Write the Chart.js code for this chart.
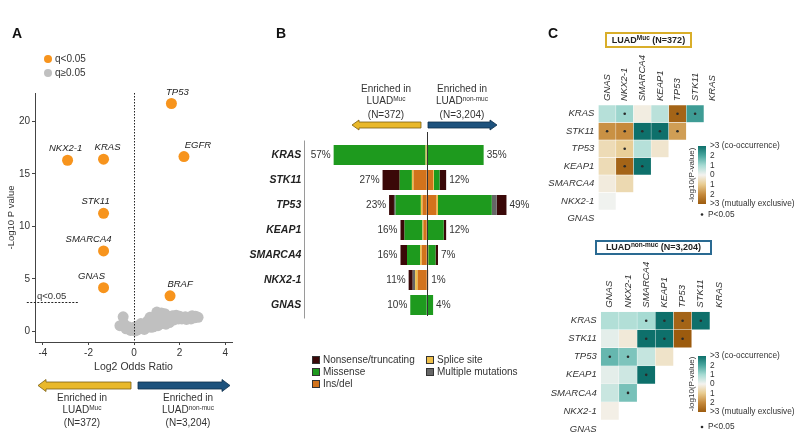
<!DOCTYPE html>
<html>
<head>
<meta charset="utf-8">
<script src="https://cdn.jsdelivr.net/npm/chart.js@4.4.1/dist/chart.umd.min.js"></script>
<style>
html,body{margin:0;padding:0;background:#fff;}
body{width:800px;height:445px;position:relative;overflow:hidden;font-family:"Liberation Sans",Arial,sans-serif;color:#333;}
canvas{position:absolute;left:0;top:0;}
.t{position:absolute;white-space:nowrap;font-size:10px;line-height:12px;}
.c{transform:translateX(-50%);text-align:center;}
.L{position:absolute;font-weight:bold;font-size:14px;line-height:14px;color:#111;}
.sup{font-size:6.5px;position:relative;top:-3.5px;}
.dot{position:absolute;width:8px;height:8px;border-radius:50%;}
.sq{position:absolute;width:6px;height:6px;border:1px solid #333;}
.box{position:absolute;box-sizing:border-box;border:2px solid;font-weight:bold;font-size:9px;text-align:center;color:#222;white-space:nowrap;}
svg{position:absolute;left:0;top:0;}
</style>
</head>
<body>
<canvas id="cA" width="800" height="445"></canvas>
<canvas id="cB" width="800" height="445"></canvas>
<canvas id="cC1" width="800" height="445"></canvas>
<canvas id="cC2" width="800" height="445"></canvas>

<svg width="800" height="445">
  <polygon points="38,385.5 46,379.5 46,382 131,382 131,389 46,389 46,391.5" fill="#E9B82A" stroke="#7A5E12" stroke-width="0.8"/>
  <polygon points="230,385.5 222,379.5 222,382 138,382 138,389 222,389 222,391.5" fill="#1D527D" stroke="#0E2F4A" stroke-width="0.8"/>
  <polygon points="352,125 359,120 359,122 421,122 421,128 359,128 359,130" fill="#E9B82A" stroke="#7A5E12" stroke-width="0.8"/>
  <polygon points="497,125 490,120 490,122 428,122 428,128 490,128 490,130" fill="#1D527D" stroke="#0E2F4A" stroke-width="0.8"/>
</svg>

<div class="L" style="left:12px;top:26px">A</div>
<div class="L" style="left:276px;top:26px">B</div>
<div class="L" style="left:548px;top:26px">C</div>

<div class="dot" style="left:44.3px;top:55.3px;background:#F7941D"></div>
<div class="t" style="left:55px;top:53.3px">q&lt;0.05</div>
<div class="dot" style="left:44.3px;top:69.3px;background:#C0C0C0"></div>
<div class="t" style="left:55px;top:67.3px">q≥0.05</div>

<div class="t c" style="left:82px;top:392px">Enriched in<br>LUAD<span class="sup">Muc</span><br>(N=372)</div>
<div class="t c" style="left:188px;top:392px">Enriched in<br>LUAD<span class="sup">non-muc</span><br>(N=3,204)</div>

<div class="t c" style="left:386px;top:82.5px;line-height:12.5px">Enriched in<br>LUAD<span class="sup">Muc</span><br>(N=372)</div>
<div class="t c" style="left:462px;top:82.5px;line-height:12.5px">Enriched in<br>LUAD<span class="sup">non-muc</span><br>(N=3,204)</div>

<div class="sq" style="left:312px;top:356px;background:#3A0808"></div>
<div class="t" style="left:323px;top:354px">Nonsense/truncating</div>
<div class="sq" style="left:312px;top:368px;background:#1E9A1E"></div>
<div class="t" style="left:323px;top:366px">Missense</div>
<div class="sq" style="left:312px;top:380px;background:#D2731C"></div>
<div class="t" style="left:323px;top:378px">Ins/del</div>
<div class="sq" style="left:426px;top:356px;background:#EFC04A"></div>
<div class="t" style="left:437px;top:354px">Splice site</div>
<div class="sq" style="left:426px;top:368px;background:#666666"></div>
<div class="t" style="left:437px;top:366px">Multiple mutations</div>

<div class="box" style="left:605px;top:32px;width:87px;height:16px;line-height:12px;border-color:#D9AE2A">LUAD<span class="sup">Muc</span> (N=372)</div>
<div class="box" style="left:595px;top:240px;width:117px;height:15px;line-height:11px;border-color:#2A6A92">LUAD<span class="sup">non-muc</span> (N=3,204)</div>

<script>
const FONT = '"Liberation Sans", Arial, sans-serif';

// ---------------- Panel A data ----------------
const sigGenes     = ['TP53', 'EGFR', 'NKX2-1', 'KRAS', 'STK11', 'SMARCA4', 'GNAS', 'BRAF'];
const sigLog2OR    = [1.64, 2.19, -2.92, -1.34, -1.34, -1.34, -1.34, 1.58];
const sigNegLog10P = [21.7, 16.65, 16.3, 16.4, 11.25, 7.67, 4.17, 3.4];
const nsLog2OR     = [-0.48, -0.62, -0.35, -0.15, 0.05, 0.1, 0.2, 0.3, 0.45, 0.55, 0.7, 0.75, 0.85, 0.9, 1.0, 1.05, 1.15, 1.25, 1.35, 1.45, 1.55, 1.65, 1.75, 1.85, 1.95, 2.1, 2.25, 2.4, 2.55, 2.7, 2.81,
                      0.0, 0.35, 0.6, 0.8, 0.95, 1.1, 1.2, 1.3, 1.4, 1.5, 1.6, 1.7, 1.9, 2.0, 2.3, 2.5, 2.65, -0.45, -0.25, 0.15];
const nsNegLog10P  = [1.4, 0.55, 0.25, 0.1, 0.05, 0.5, 0.35, 0.75, 0.2, 0.7, 1.35, 0.4, 0.45, 0.9, 1.85, 0.55, 1.3, 0.75, 1.7, 1.05, 0.85, 1.45, 1.1, 1.55, 1.2, 1.2, 1.4, 1.3, 1.5, 1.45, 1.35,
                      0.4, 0.45, 1.0, 0.75, 1.45, 1.0, 1.75, 1.2, 0.7, 1.4, 1.05, 1.5, 1.3, 1.45, 1.15, 1.2, 1.3, 0.75, 0.45, 0.15];
const qThreshold = 2.8;
const xTicksA = [-4, -2, 0, 2, 4];
const yTicksA = [0, 5, 10, 15, 20];

// ---------------- Panel B data ----------------
const genesB      = ['KRAS', 'STK11', 'TP53', 'KEAP1', 'SMARCA4', 'NKX2-1', 'GNAS'];
const mucTotal    = [57, 27, 23, 16, 16, 11, 10];
const nonMucTotal = [35, 12, 49, 12, 7, 1, 4];
const mutTypes    = ['Ins/del', 'Splice site', 'Missense', 'Multiple mutations', 'Nonsense/truncating'];
const mucInsdel   = [0, 8, 2.5, 2, 3, 5.5, 0];
const mucSplice   = [0.6, 1, 1, 0.5, 1, 1.5, 0];
const mucMissense = [56.4, 7.5, 15.5, 11, 8, 0, 10];
const mucMultiple = [0, 0, 1, 0, 0, 1.5, 0];
const mucNonsense = [0, 10.5, 3, 2.5, 4, 2.5, 0];
const nmInsdel    = [0, 4, 6, 0.5, 0.5, 1, 0];
const nmSplice    = [0, 0.5, 1, 0, 0.5, 0, 0];
const nmMissense  = [35, 3.5, 33, 10, 4.5, 0, 4];
const nmMultiple  = [0, 0, 3, 0, 0, 0, 0];
const nmNonsense  = [0, 4, 6, 1.5, 1.5, 0, 0];

// ---------------- Panel C data ----------------
const colsC = ['GNAS', 'NKX2-1', 'SMARCA4', 'KEAP1', 'TP53', 'STK11', 'KRAS'];
const rowsC = ['KRAS', 'STK11', 'TP53', 'KEAP1', 'SMARCA4', 'NKX2-1', 'GNAS'];
// signed -log10(P): + co-occurrence, - mutual exclusivity
const mucVals = [
  [0.8, 1.1, -0.15, 0.75, -2.8, 2.2],
  [-1.9, -2.0, 3, 3, -1.7],
  [-0.6, -0.9, 0.8, -0.35],
  [-0.6, -2.8, 3],
  [-0.2, -0.65],
  [0.05]
];
const mucSig = [
  [0, 1, 0, 0, 1, 1],
  [1, 1, 1, 1, 1],
  [0, 1, 0, 0],
  [0, 1, 1],
  [0, 0],
  [0]
];
const nonMucVals = [
  [0.85, 0.85, 1.0, 3, -2.8, 3],
  [0.2, -0.25, 3, 3, -3],
  [1.7, 1.45, 0.6, -0.4],
  [0.2, 0.5, 3],
  [0.55, 1.5],
  [-0.1]
];
const nonMucSig = [
  [0, 0, 1, 1, 1, 1],
  [0, 0, 1, 1, 1],
  [1, 1, 0, 0],
  [0, 0, 1],
  [0, 1],
  [0]
];
const cbTicks  = [3, 2, 1, 0, -1, -2, -3];
const cbLabels = ['>3 (co-occurrence)', '2', '1', '0', '1', '2', '>3 (mutually exclusive)'];

// ---------------- styles ----------------
const heatStops = [[-3, '#9C5B0E'], [-2, '#C68A3C'], [-1, '#E8CB8F'], [0, '#F4F3F0'], [1, '#A6DBD3'], [2, '#4AA79F'], [3, '#0E706B']];
const mutColors = ['#D2731C', '#EFC04A', '#1E9A1E', '#666666', '#3A0808'];
const labelDxA = {'TP53': 6, 'EGFR': 14, 'NKX2-1': -2, 'KRAS': 4, 'STK11': -8, 'SMARCA4': -15, 'GNAS': -12, 'BRAF': 10};

function hex2rgb(h) { return [parseInt(h.slice(1, 3), 16), parseInt(h.slice(3, 5), 16), parseInt(h.slice(5, 7), 16)]; }
function heatColor(v) {
  v = Math.max(-3, Math.min(3, v));
  for (let k = 0; k < heatStops.length - 1; k++) {
    const [v0, c0] = heatStops[k], [v1, c1] = heatStops[k + 1];
    if (v >= v0 && v <= v1) {
      const t = (v - v0) / (v1 - v0), a = hex2rgb(c0), b = hex2rgb(c1);
      return 'rgb(' + a.map((x, i) => Math.round(x + (b[i] - x) * t)).join(',') + ')';
    }
  }
  return heatStops[heatStops.length - 1][1];
}

const base = { responsive: false, animation: false, events: [], devicePixelRatio: 1,
  plugins: { legend: { display: false }, tooltip: { enabled: false } } };

// ---------------- Panel A chart ----------------
const volcanoPlugin = {
  id: 'volc',
  afterDatasetsDraw(chart) {
    const { ctx, chartArea: a, scales: { x, y } } = chart;
    ctx.save();
    ctx.strokeStyle = '#222'; ctx.lineWidth = 1; ctx.setLineDash([1.5, 1.5]);
    const x0 = Math.round(x.getPixelForValue(0)) + 0.5;
    ctx.beginPath(); ctx.moveTo(x0, a.top); ctx.lineTo(x0, a.bottom); ctx.stroke();
    const yq = Math.round(y.getPixelForValue(qThreshold)) + 0.5;
    ctx.setLineDash([2, 1.5]);
    ctx.beginPath(); ctx.moveTo(x.getPixelForValue(-4.71), yq); ctx.lineTo(x.getPixelForValue(-2.46), yq); ctx.stroke();
    ctx.setLineDash([]);
    ctx.fillStyle = '#333'; ctx.font = '9.5px ' + FONT; ctx.textAlign = 'left'; ctx.textBaseline = 'middle';
    ctx.fillText('q<0.05', 37, yq - 6.5);
    ctx.fillStyle = '#222'; ctx.font = 'italic 9.5px ' + FONT; ctx.textAlign = 'center';
    sigGenes.forEach((g, i) => {
      const px = x.getPixelForValue(sigLog2OR[i]), py = y.getPixelForValue(sigNegLog10P[i]);
      ctx.fillText(g, px + labelDxA[g], py - 11.5);
    });
    ctx.restore();
  }
};
new Chart(document.getElementById('cA'), {
  type: 'scatter',
  data: { datasets: [
    { label: 'q<0.05', data: sigGenes.map((g, i) => ({ x: sigLog2OR[i], y: sigNegLog10P[i] })), backgroundColor: '#F7941D', pointRadius: 5.5, borderWidth: 0 },
    { label: 'q≥0.05', data: nsLog2OR.map((v, i) => ({ x: v, y: nsNegLog10P[i] })), backgroundColor: '#C0C0C0', pointRadius: 5.5, borderWidth: 0 }
  ] },
  options: Object.assign({}, base, {
    layout: { padding: { left: 0, top: 93, right: 568, bottom: 65 } },
    scales: {
      x: { type: 'linear', min: -4.35, max: 4.3, afterFit: s => { s.height = 38; },
        afterBuildTicks: s => { s.ticks = xTicksA.map(v => ({ value: v })); },
        border: { color: '#444', width: 1 }, grid: { drawOnChartArea: false, tickLength: 3, color: '#444' },
        ticks: { padding: 2, color: '#333', font: { size: 10, family: FONT }, maxRotation: 0 },
        title: { display: true, text: 'Log2 Odds Ratio', color: '#333', font: { size: 10.5, family: FONT }, padding: { top: 0, bottom: 7 } } },
      y: { type: 'linear', min: -1, max: 22.7, afterFit: s => { s.width = 35; },
        afterBuildTicks: s => { s.ticks = yTicksA.map(v => ({ value: v })); },
        border: { color: '#444', width: 1 }, grid: { drawOnChartArea: false, tickLength: 3, color: '#444' },
        ticks: { padding: 2, color: '#333', font: { size: 10, family: FONT } },
        title: { display: true, text: '-Log10 P value', color: '#333', font: { size: 9.5, family: FONT }, padding: { top: 6, bottom: 0 } } }
    }
  }),
  plugins: [volcanoPlugin]
});

// ---------------- Panel B chart ----------------
const mucSegs = [mucInsdel, mucSplice, mucMissense, mucMultiple, mucNonsense];
const nmSegs  = [nmInsdel, nmSplice, nmMissense, nmMultiple, nmNonsense];
const dsB = [];
mutTypes.forEach((t, k) => {
  dsB.push({ label: t + ' (Muc)', data: mucSegs[k].map(v => -v), backgroundColor: mutColors[k], borderWidth: 0, stack: 's', barPercentage: 0.8, categoryPercentage: 1 });
});
mutTypes.forEach((t, k) => {
  dsB.push({ label: t + ' (non-muc)', data: nmSegs[k], backgroundColor: mutColors[k], borderWidth: 0, stack: 's', barPercentage: 0.8, categoryPercentage: 1 });
});
const barPlugin = {
  id: 'bars',
  afterDatasetsDraw(chart) {
    const { ctx, chartArea: a, scales: { x, y } } = chart;
    ctx.save();
    ctx.lineWidth = 1;
    ctx.strokeStyle = '#9a9a9a';
    const xl = Math.round(a.left) + 0.5;
    ctx.beginPath(); ctx.moveTo(xl, a.top - 2); ctx.lineTo(xl, a.bottom + 1); ctx.stroke();
    const xc = Math.round(x.getPixelForValue(0)) + 0.5;
    ctx.strokeStyle = '#333';
    ctx.beginPath(); ctx.moveTo(xc, a.top - 10.5); ctx.lineTo(xc, a.bottom - 1.5); ctx.stroke();
    ctx.textBaseline = 'middle';
    genesB.forEach((g, i) => {
      const py = y.getPixelForValue(i);
      ctx.font = 'bold italic 10.5px ' + FONT; ctx.fillStyle = '#222'; ctx.textAlign = 'right';
      ctx.fillText(g, a.left - 3, py);
      ctx.font = '10px ' + FONT; ctx.fillStyle = '#333';
      ctx.fillText(mucTotal[i] + '%', x.getPixelForValue(-mucTotal[i]) - 3, py);
      ctx.textAlign = 'left';
      ctx.fillText(nonMucTotal[i] + '%', x.getPixelForValue(nonMucTotal[i]) + 3, py);
    });
    ctx.restore();
  }
};
new Chart(document.getElementById('cB'), {
  type: 'bar',
  data: { labels: genesB, datasets: dsB },
  options: Object.assign({}, base, {
    indexAxis: 'y',
    layout: { padding: { left: 304.3, right: 275.6, top: 142.5, bottom: 127.5 } },
    scales: {
      x: { type: 'linear', min: -75, max: 60, stacked: true, display: false },
      y: { type: 'category', stacked: true, display: false }
    }
  }),
  plugins: [barPlugin]
});

// ---------------- Panel C charts ----------------
function heatChart(id, vals, sig, pad, cb) {
  const datasets = rowsC.map((r, i) => ({
    type: 'bar', label: r,
    data: colsC.map((c, j) => (vals[i] && j < vals[i].length) ? [i - 0.5, i + 0.5] : null),
    backgroundColor: colsC.map((c, j) => (vals[i] && j < vals[i].length) ? heatColor(vals[i][j]) : 'rgba(0,0,0,0)'),
    borderColor: 'rgba(255,255,255,0.45)', borderWidth: 0.5, borderSkipped: false,
    barPercentage: 1, categoryPercentage: 1, grouped: false, order: 1
  }));
  const dots = [];
  sig.forEach((row, i) => row.forEach((s, j) => { if (s) dots.push({ x: colsC[j], y: i }); }));
  datasets.push({ type: 'scatter', label: 'P<0.05', data: dots, pointRadius: 1.3, backgroundColor: '#2a2a2a', borderWidth: 0, order: 0 });
  const plug = {
    id: 'heat' + id,
    afterDatasetsDraw(chart) {
      const { ctx, chartArea: a, scales: { x, y } } = chart;
      ctx.save();
      ctx.fillStyle = '#333'; ctx.textBaseline = 'middle';
      ctx.font = 'italic 9.5px ' + FONT; ctx.textAlign = 'right';
      rowsC.forEach((r, i) => ctx.fillText(r, a.left - 4, y.getPixelForValue(i)));
      ctx.font = 'italic 9.5px ' + FONT; ctx.textAlign = 'left';
      colsC.forEach((c, j) => {
        ctx.save(); ctx.translate(x.getPixelForValue(j), a.top - 4); ctx.rotate(-Math.PI / 2);
        ctx.fillText(c, 0, 0); ctx.restore();
      });
      const g = ctx.createLinearGradient(0, cb.y, 0, cb.y + cb.h);
      heatStops.forEach(([v, c]) => g.addColorStop((3 - v) / 6, c));
      ctx.fillStyle = g; ctx.fillRect(cb.x, cb.y, cb.w, cb.h);
      ctx.fillStyle = '#333'; ctx.font = '8.3px ' + FONT; ctx.textAlign = 'left';
      cbTicks.forEach((t, k) => ctx.fillText(cbLabels[k], cb.x + cb.w + 4, cb.y + (3 - t) / 6 * cb.h));
      ctx.save(); ctx.translate(cb.x - 6, cb.y + cb.h / 2); ctx.rotate(-Math.PI / 2);
      ctx.textAlign = 'center'; ctx.font = '8px ' + FONT; ctx.fillText('-log10(P-value)', 0, 0); ctx.restore();
      ctx.beginPath(); ctx.arc(cb.x + 4, cb.pY, 1.3, 0, Math.PI * 2); ctx.fillStyle = '#2a2a2a'; ctx.fill();
      ctx.fillStyle = '#333'; ctx.font = '8.3px ' + FONT; ctx.fillText('P<0.05', cb.x + 10, cb.pY);
      ctx.restore();
    }
  };
  new Chart(document.getElementById(id), {
    type: 'bar',
    data: { labels: colsC, datasets },
    options: Object.assign({}, base, {
      layout: { padding: pad },
      scales: {
        x: { type: 'category', offset: true, display: false },
        y: { type: 'linear', min: -0.5, max: 6.5, reverse: true, display: false }
      }
    }),
    plugins: [plug]
  });
}
heatChart('cC1', mucVals, mucSig, { left: 598.3, right: 78.5, top: 105, bottom: 217.5 }, { x: 698, y: 146, w: 8, h: 58, pY: 214.5 });
heatChart('cC2', nonMucVals, nonMucSig, { left: 600.7, right: 71.9, top: 311.7, bottom: 7 }, { x: 698, y: 356, w: 8, h: 56, pY: 427 });
</script>
</body>
</html>
